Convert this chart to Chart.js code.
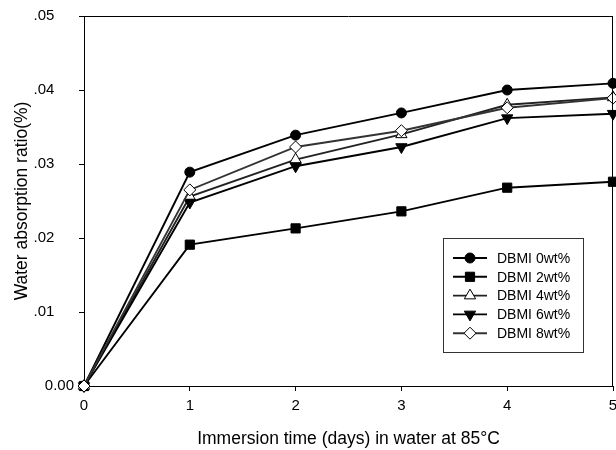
<!DOCTYPE html>
<html>
<head>
<meta charset="utf-8">
<script src="https://cdn.jsdelivr.net/npm/chart.js@4/dist/chart.umd.min.js"></script>
<style>
html,body{margin:0;padding:0;background:#fff;}
#wrap{width:616px;height:450px;position:relative;}
</style>
</head>
<body>
<div id="wrap"><canvas id="c" width="616" height="450"></canvas></div>
<script>
// ---- data ----
const days = ['0', '1', '2', '3', '4', '5'];
const seriesNames = ['DBMI 0wt%', 'DBMI 2wt%', 'DBMI 4wt%', 'DBMI 6wt%', 'DBMI 8wt%'];
const dbmi0 = [0, 0.0289, 0.0339, 0.0369, 0.0400, 0.0409];
const dbmi2 = [0, 0.0191, 0.0213, 0.0236, 0.0268, 0.0276];
const dbmi4 = [0, 0.0256, 0.0306, 0.0340, 0.0380, 0.0390];
const dbmi6 = [0, 0.0248, 0.0297, 0.0323, 0.0362, 0.0368];
const dbmi8 = [0, 0.0265, 0.0323, 0.0345, 0.0376, 0.0389];
const yTickLabels = ['0.00', '.01', '.02', '.03', '.04', '.05'];
const xTitle = 'Immersion time (days) in water at 85\u00B0C';
const yTitle = 'Water absorption ratio(%)';

const FONT = "'Liberation Sans', Arial, sans-serif";

const styles = [
  {pointStyle: 'circle', radius: 5, fill: '#000', rot: 0, line: '#000'},
  {pointStyle: 'rect', radius: 6.5, fill: '#000', rot: 0, line: '#000'},
  {pointStyle: 'triangle', radius: 6.5, fill: '#fff', rot: 0, line: '#222'},
  {pointStyle: 'triangle', radius: 6.5, fill: '#000', rot: 180, line: '#000'},
  {pointStyle: 'rectRot', radius: 6, fill: '#fff', rot: 0, line: '#333'}
];
const seriesData = [dbmi0, dbmi2, dbmi4, dbmi6, dbmi8];

const datasets = seriesData.map((d, i) => ({
  label: seriesNames[i],
  data: d,
  borderColor: styles[i].line,
  borderWidth: 1.9,
  pointStyle: styles[i].pointStyle,
  pointRadius: styles[i].radius,
  pointRotation: styles[i].rot,
  pointBackgroundColor: styles[i].fill,
  pointBorderColor: '#000',
  pointBorderWidth: 1,
  tension: 0,
  fill: false,
  clip: false,
  order: 5 - i
}));

function drawMarker(ctx, st, x, y) {
  ctx.save();
  ctx.fillStyle = st.fill;
  ctx.strokeStyle = '#000';
  ctx.lineWidth = 1;
  ctx.beginPath();
  const r = st.radius;
  if (st.pointStyle === 'circle') {
    ctx.arc(x, y, r, 0, Math.PI * 2);
  } else if (st.pointStyle === 'rect') {
    const s = r * Math.SQRT1_2;
    ctx.rect(x - s, y - s, 2 * s, 2 * s);
  } else if (st.pointStyle === 'rectRot') {
    ctx.moveTo(x, y - r); ctx.lineTo(x + r, y); ctx.lineTo(x, y + r); ctx.lineTo(x - r, y); ctx.closePath();
  } else if (st.pointStyle === 'triangle') {
    const sgn = st.rot === 180 ? -1 : 1;
    ctx.moveTo(x, y - sgn * r);
    ctx.lineTo(x + r * 0.87, y + sgn * r * 0.5);
    ctx.lineTo(x - r * 0.87, y + sgn * r * 0.5);
    ctx.closePath();
  }
  ctx.fill();
  ctx.stroke();
  ctx.restore();
}

const framePlugin = {
  id: 'frame',
  afterDraw(chart) {
    const ctx = chart.ctx;
    const a = chart.chartArea;
    ctx.save();
    ctx.strokeStyle = '#000';
    ctx.lineWidth = 1;
    ctx.beginPath();
    ctx.moveTo(a.left, a.top + 0.5);
    ctx.lineTo(a.right, a.top + 0.5);
    ctx.moveTo(a.right - 0.5, a.top);
    ctx.lineTo(a.right - 0.5, a.bottom);
    ctx.stroke();
    // legend box
    const bx = a.right - 170, by = 238, bw = 140, bh = 114;
    ctx.fillStyle = '#fff';
    ctx.fillRect(bx, by, bw, bh);
    ctx.strokeStyle = '#333';
    ctx.strokeRect(bx + 0.5, by + 0.5, bw, bh);
    ctx.font = '14px ' + FONT;
    ctx.textBaseline = 'middle';
    ctx.textAlign = 'left';
    for (let i = 0; i < seriesNames.length; i++) {
      const y = by + 20 + i * 18.8;
      ctx.strokeStyle = styles[i].line;
      ctx.lineWidth = 1.9;
      ctx.beginPath();
      ctx.moveTo(bx + 10, y);
      ctx.lineTo(bx + 44, y);
      ctx.stroke();
      drawMarker(ctx, styles[i], bx + 27, y);
      ctx.fillStyle = '#000';
      ctx.fillText(seriesNames[i], bx + 54, y + 1);
    }
    ctx.restore();
  }
};

new Chart(document.getElementById('c'), {
  type: 'line',
  data: { labels: days, datasets: datasets },
  options: {
    responsive: false,
    animation: false,
    devicePixelRatio: 1,
    layout: { autoPadding: false, padding: { top: 16, right: 3, left: 0, bottom: 0 } },
    plugins: { legend: { display: false }, tooltip: { enabled: false } },
    scales: {
      x: {
        type: 'category',
        offset: false,
        grid: { display: true, drawOnChartArea: false, drawTicks: true, tickLength: 5, color: '#000' },
        border: { display: true, color: '#000', width: 1 },
        ticks: { color: '#000', font: { family: FONT, size: 15 }, padding: 6, maxRotation: 0, autoSkip: false },
        title: { display: true, text: xTitle, color: '#000', font: { family: FONT, size: 17.5 }, padding: { top: 7, bottom: 0 } },
        afterFit(scale) { scale.height = 64; scale.paddingLeft = 0; scale.paddingRight = 0; }
      },
      y: {
        min: 0, max: 0.05,
        grid: { display: true, drawOnChartArea: false, drawTicks: true, tickLength: 5, color: '#000' },
        border: { display: true, color: '#000', width: 1 },
        ticks: {
          stepSize: 0.01, color: '#000', font: { family: FONT, size: 15 }, padding: 5,
          callback: (v, i) => (i === 0 ? yTickLabels[i] : yTickLabels[i] + '\u2007\u2007\u2009')
        },
        title: { display: true, text: yTitle, color: '#000', font: { family: FONT, size: 17.5 }, padding: { top: 12, bottom: 4 } },
        afterFit(scale) { scale.width = 84; scale.paddingTop = 0; scale.paddingBottom = 0; }
      }
    }
  },
  plugins: [framePlugin]
});
</script>
</body>
</html>
